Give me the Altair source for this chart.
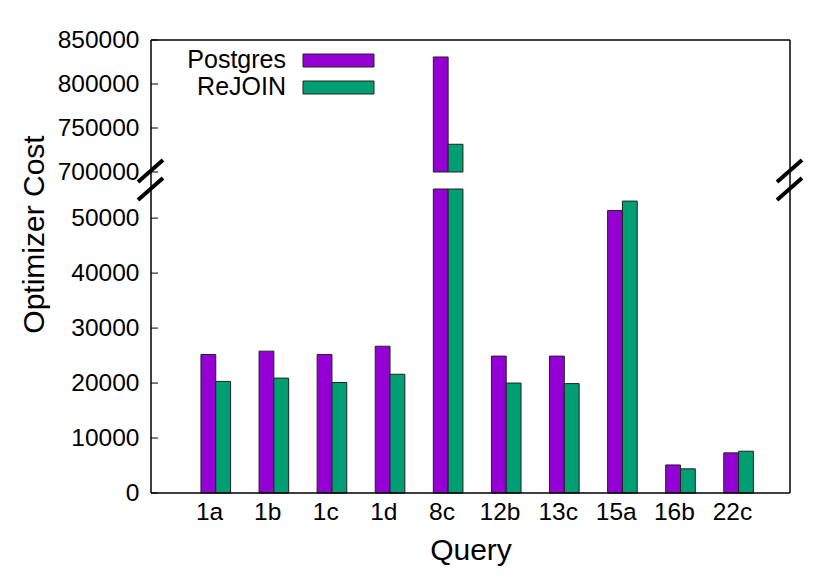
import json
import altair as alt
import pandas as pd

queries = ["1a", "1b", "1c", "1d", "8c", "12b", "13c", "15a", "16b", "22c"]
series = ["Postgres", "ReJOIN"]
colors = ["#9400D3", "#009E73"]
postgres = [25200, 25800, 25200, 26700, 830700, 24900, 24900, 51400, 5100, 7300]
rejoin = [20300, 20900, 20100, 21600, 731500, 20000, 19900, 53100, 4400, 7600]
low_ticks = [0, 10000, 20000, 30000, 40000, 50000]
high_ticks = [700000, 750000, 800000, 850000]
low_max = 55300
high_min, high_max = 700000, 850000

W, HT, HB, GAP = 639, 132, 304, 17
FONT = "Liberation Sans"
TICKFS = 24.5
TITLEFS = 30

rows = []
for i, q in enumerate(queries):
    for s, vals in zip(series, [postgres, rejoin]):
        rows.append({"query": q, "idx": i + 1, "series": s, "value": vals[i]})
df = pd.DataFrame(rows)

color = alt.Color("series:N", scale=alt.Scale(domain=series, range=colors), legend=None)
xscale = alt.Scale(domain=[0, len(queries) + 1], nice=False)
label_expr = json.dumps([""] + queries) + "[datum.value]"


def one():
    return alt.Chart(alt.InlineData(values=[{"a": 1}]))


def frame_rule(x, x2, y, y2, width=1.5):
    return one().mark_rule(color="black", strokeWidth=width, strokeCap="butt").encode(
        x=alt.value(x), x2=alt.value(x2), y=alt.value(y), y2=alt.value(y2)
    )


def tick_layer(vals, yscale, axis):
    return alt.Chart(pd.DataFrame({"v": vals})).mark_rule(color="black", strokeWidth=1).encode(
        y=alt.Y("v:Q", scale=yscale, axis=axis), x=alt.value(0), x2=alt.value(7)
    )


bars_common = dict(stroke="#222222", strokeWidth=1)

# ---------- top panel ----------
ytop = alt.Scale(domain=[high_min, high_max], nice=False, zero=False)
ytop_axis = alt.Axis(values=high_ticks, ticks=False, domain=False, grid=False, labelPadding=12,
                     format="d", title=None)
top_bars = alt.Chart(df).transform_filter(
    f"datum.value > {high_min}"
).transform_calculate(
    x0=f"datum.idx + (datum.series == '{series[0]}' ? -0.14 : 0.115)",
    x1=f"datum.idx + (datum.series == '{series[0]}' ? 0.115 : 0.37)",
    base=f"{high_min}",
).mark_rect(**bars_common).encode(
    x=alt.X("x0:Q", scale=xscale, axis=None),
    x2="x1:Q",
    y=alt.Y("value:Q", scale=ytop, axis=ytop_axis),
    y2="base:Q",
    color=color,
)

legend_layers = []
for k, (s, c) in enumerate(zip(series, colors)):
    legend_layers.append(
        one().mark_text(align="right", baseline="middle", fontSize=25, font=FONT, color="black").encode(
            x=alt.value(135), y=alt.value(20 + 27 * k), text=alt.value(s)
        )
    )
    legend_layers.append(
        one().mark_rect(color=c, stroke="#222222", strokeWidth=1).encode(
            x=alt.value(152), x2=alt.value(223), y=alt.value(14 + 27 * k), y2=alt.value(27 + 27 * k)
        )
    )

top = alt.layer(
    top_bars,
    tick_layer(high_ticks, ytop, ytop_axis),
    frame_rule(0, W, 0, 0),
    frame_rule(0, 0, 0, HT + GAP),
    frame_rule(W, W, 0, HT + GAP),
    frame_rule(-13, 12, HT + 10, HT - 12, width=4),
    frame_rule(-13, 12, HT + 28, HT + 6, width=4),
    frame_rule(W - 13, W + 12, HT + 10, HT - 12, width=4),
    frame_rule(W - 13, W + 12, HT + 28, HT + 6, width=4),
    *legend_layers,
).properties(width=W, height=HT)

# ---------- bottom panel ----------
ybot = alt.Scale(domain=[0, low_max], nice=False)
ybot_axis = alt.Axis(values=low_ticks, ticks=False, domain=False, grid=False, labelPadding=12,
                     format="d", title="Optimizer Cost", titleX=-117, titleY=45, titleAngle=270,
                     titleAlign="center", titleBaseline="middle", titleFontSize=TITLEFS)
xaxis = alt.Axis(values=list(range(1, len(queries) + 1)), labelExpr=label_expr, ticks=False, tickSize=0,
                 domain=False, grid=False, labelPadding=26, labelBaseline="alphabetic",
                 title="Query", titleFontSize=TITLEFS, titleY=66, titleBaseline="alphabetic")
bot_bars = alt.Chart(df).transform_calculate(
    x0=f"datum.idx + (datum.series == '{series[0]}' ? -0.14 : 0.115)",
    x1=f"datum.idx + (datum.series == '{series[0]}' ? 0.115 : 0.37)",
    v=f"min(datum.value, {low_max})",
    base="0",
).mark_rect(**bars_common).encode(
    x=alt.X("x0:Q", scale=xscale, axis=xaxis),
    x2="x1:Q",
    y=alt.Y("v:Q", scale=ybot, axis=ybot_axis),
    y2="base:Q",
    color=color,
)

bottom = alt.layer(
    bot_bars,
    tick_layer(low_ticks, ybot, ybot_axis),
    frame_rule(0, 0, 0, HB),
    frame_rule(W, W, 0, HB),
    frame_rule(0, W, HB, HB),
).properties(width=W, height=HB)

chart = alt.vconcat(top, bottom, spacing=GAP, bounds="flush").properties(
    padding={"left": 10, "top": 19, "right": 5, "bottom": 5}
).configure_view(stroke=None).configure_axis(
    labelFont=FONT, titleFont=FONT, labelFontSize=TICKFS, labelColor="black", titleColor="black",
    titleFontWeight="normal"
).configure_concat(spacing=GAP)

chart.save("out.html", embed_options={"renderer": "svg", "actions": False})
